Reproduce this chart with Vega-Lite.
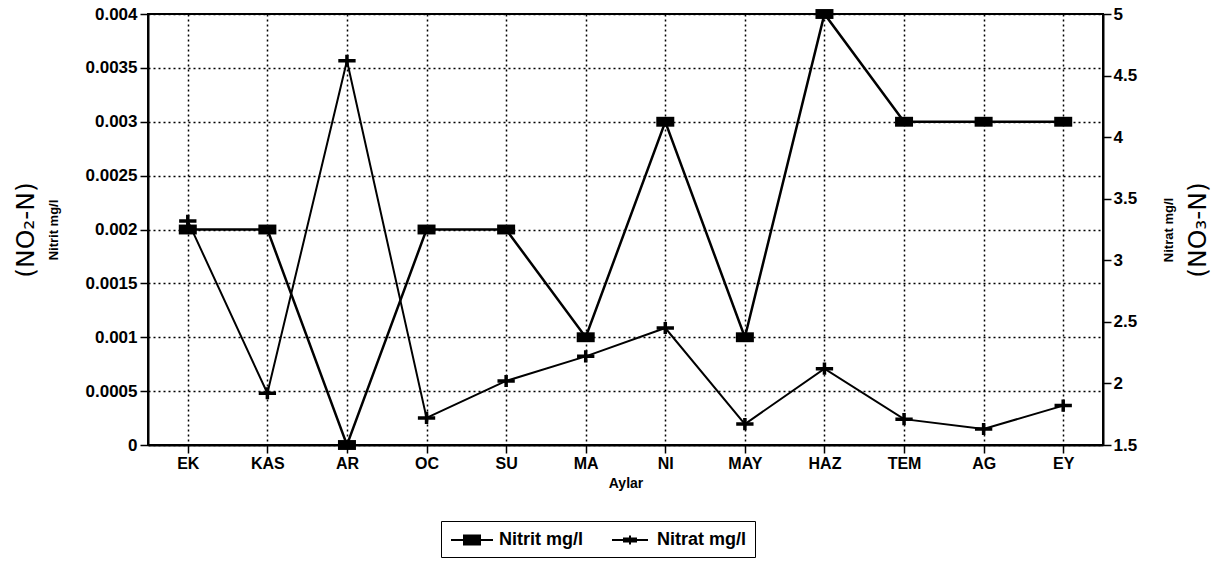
{
  "$schema": "https://vega.github.io/schema/vega-lite/v6.json",
  "width": 955,
  "height": 431,
  "autosize": "none",
  "padding": {"left": 148, "top": 14, "right": 122, "bottom": 118},
  "background": "white",
  "config": {
    "font": "Liberation Sans",
    "view": {"stroke": "black", "strokeWidth": 2},
    "axis": {
      "domainColor": "black",
      "domainWidth": 2,
      "tickColor": "black",
      "tickWidth": 1.5,
      "tickSize": 8,
      "labelColor": "black",
      "labelFont": "Liberation Sans",
      "labelFontWeight": "bold",
      "labelFontSize": 17,
      "titleColor": "black",
      "titleFont": "Liberation Sans",
      "titleFontWeight": "bold",
      "gridColor": "black",
      "gridDash": [2, 3],
      "gridWidth": 1.5,
      "gridOpacity": 1
    },
    "legend": {
      "labelFont": "Liberation Sans",
      "labelFontWeight": "bold",
      "labelFontSize": 18,
      "labelColor": "black"
    }
  },
  "data": {
    "values": [
      {"ay": "EK", "nitrit": 0.002, "nitrat": 3.32},
      {"ay": "KAS", "nitrit": 0.002, "nitrat": 1.92},
      {"ay": "AR", "nitrit": 0.0, "nitrat": 4.62},
      {"ay": "OC", "nitrit": 0.002, "nitrat": 1.72},
      {"ay": "SU", "nitrit": 0.002, "nitrat": 2.02},
      {"ay": "MA", "nitrit": 0.001, "nitrat": 2.22},
      {"ay": "NI", "nitrit": 0.003, "nitrat": 2.45},
      {"ay": "MAY", "nitrit": 0.001, "nitrat": 1.67},
      {"ay": "HAZ", "nitrit": 0.004, "nitrat": 2.12},
      {"ay": "TEM", "nitrit": 0.003, "nitrat": 1.71},
      {"ay": "AG", "nitrit": 0.003, "nitrat": 1.63},
      {"ay": "EY", "nitrit": 0.003, "nitrat": 1.82}
    ]
  },
  "encoding": {
    "x": {
      "field": "ay",
      "type": "ordinal",
      "sort": null,
      "scale": {"type": "point", "padding": 0.5},
      "axis": {
        "title": "Aylar",
        "titleFontSize": 14,
        "titlePadding": 5,
        "labelAngle": 0,
        "labelFontSize": 16,
        "labelPadding": 2,
        "grid": true
      }
    }
  },
  "layer": [
    {
      "encoding": {
        "y": {
          "field": "nitrit",
          "type": "quantitative",
          "scale": {"domain": [0, 0.004], "nice": false, "zero": false},
          "axis": {
            "orient": "left",
            "values": [0, 0.0005, 0.001, 0.0015, 0.002, 0.0025, 0.003, 0.0035, 0.004],
            "format": "~f",
            "grid": true,
            "labelPadding": 3,
            "title": "Nitrit mg/l",
            "titleFontSize": 13,
            "titlePadding": 25
          }
        }
      },
      "layer": [
        {
          "mark": {"type": "line", "color": "black", "strokeWidth": 2.5},
          "encoding": {
            "color": {
              "datum": "Nitrit mg/l",
              "scale": {"domain": ["Nitrit mg/l", "Nitrat mg/l"], "range": ["black", "black"]},
              "legend": {
                "title": null,
                "orient": "none",
                "legendX": 293,
                "legendY": 507,
                "direction": "horizontal",
                "strokeColor": "black",
                "padding": 8,
                "columnPadding": 24,
                "symbolSize": 400,
                "symbolOffset": 12,
                "symbolStrokeWidth": 2,
                "labelOffset": 16,
                "encode": {
                  "symbols": {
                    "update": {
                      "shape": {"signal": "datum.value === 'Nitrit mg/l' ? 'M-2.1,0H2.1M-0.8,-0.45H0.8V0.45H-0.8Z' : 'M-1.8,0H1.8M-0.6,-0.15H0.6V0.15H-0.6ZM0,-0.45V0.45'"},
                      "fill": {"value": "black"},
                      "stroke": {"value": "black"},
                      "strokeWidth": {"value": 2}
                    }
                  }
                }
              }
            }
          }
        },
        {
          "mark": {
            "type": "point",
            "shape": "M-1,-0.55H1V0.55H-1Z",
            "size": 324,
            "filled": true,
            "color": "black",
            "opacity": 1
          }
        }
      ]
    },
    {
      "encoding": {
        "y": {
          "field": "nitrat",
          "type": "quantitative",
          "scale": {"domain": [1.5, 5], "nice": false, "zero": false},
          "axis": {
            "orient": "right",
            "values": [1.5, 2, 2.5, 3, 3.5, 4, 4.5, 5],
            "format": "~f",
            "grid": false,
            "labelPadding": 2,
            "title": "Nitrat mg/l",
            "titleAngle": -90,
            "titleFontSize": 13,
            "titlePadding": 39
          }
        }
      },
      "layer": [
        {
          "mark": {"type": "line", "color": "black", "strokeWidth": 2},
          "encoding": {
            "color": {"datum": "Nitrat mg/l"}
          }
        },
        {
          "mark": {
            "type": "point",
            "shape": "M-1,0H1M0,-0.7V0.7",
            "size": 300,
            "filled": false,
            "color": "black",
            "strokeWidth": 3.5,
            "opacity": 1
          }
        }
      ]
    },
    {
      "mark": {"type": "point", "opacity": 0},
      "encoding": {
        "y": {
          "field": "nitrit",
          "type": "quantitative",
          "scale": {"domain": [0, 0.004], "nice": false, "zero": false},
          "axis": {
            "orient": "left",
            "offset": 110,
            "domain": false,
            "ticks": false,
            "labels": false,
            "grid": false,
            "title": "(NO₂-N)",
            "titleFont": "DejaVu Sans",
            "titleFontWeight": "normal",
            "titleFontSize": 25,
            "titlePadding": 0
          }
        }
      }
    },
    {
      "mark": {"type": "point", "opacity": 0},
      "encoding": {
        "y": {
          "field": "nitrat",
          "type": "quantitative",
          "scale": {"domain": [1.5, 5], "nice": false, "zero": false},
          "axis": {
            "orient": "right",
            "offset": 107,
            "domain": false,
            "ticks": false,
            "labels": false,
            "grid": false,
            "title": "(NO₃-N)",
            "titleAngle": -90,
            "titleFont": "DejaVu Sans",
            "titleFontWeight": "normal",
            "titleFontSize": 25,
            "titlePadding": 0
          }
        }
      }
    }
  ],
  "resolve": {"scale": {"y": "independent"}}
}
